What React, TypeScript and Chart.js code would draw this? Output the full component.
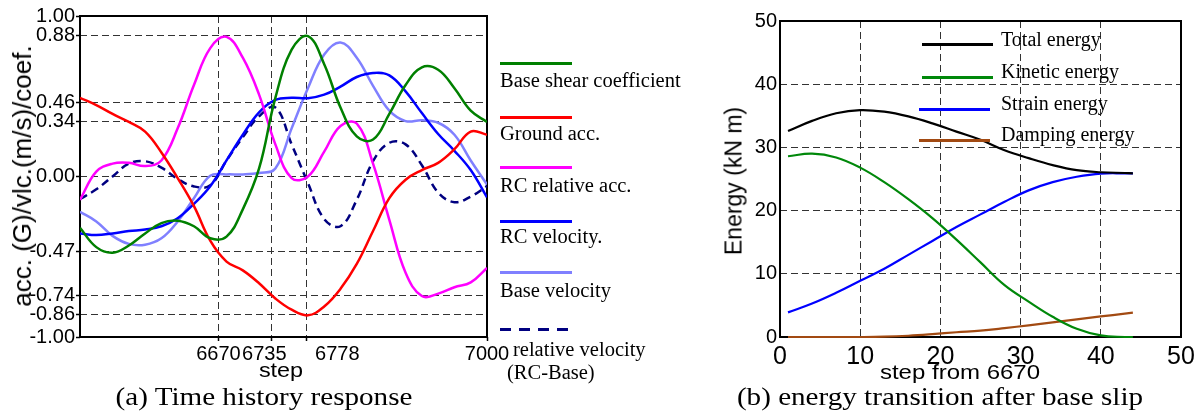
import React, { useEffect, useRef } from 'react';
import { Chart, registerables } from 'chart.js';

Chart.register(...registerables);

// ---------- (a) Time history response ----------
const STEPS = [6500, 6520, 6540, 6560, 6580, 6600, 6620, 6640, 6660, 6680, 6700, 6720, 6740, 6760, 6780, 6800, 6820, 6840, 6860, 6880, 6900, 6920, 6940, 6960, 6980, 7000];
const BASE_SHEAR = [-0.32, -0.44, -0.475, -0.43, -0.355, -0.29, -0.275, -0.31, -0.385, -0.375, -0.205, 0.05, 0.49, 0.79, 0.875, 0.70, 0.43, 0.25, 0.23, 0.39, 0.57, 0.68, 0.665, 0.55, 0.41, 0.34];
const GROUND_ACC = [0.49, 0.445, 0.39, 0.34, 0.28, 0.15, -0.01, -0.185, -0.40, -0.53, -0.585, -0.665, -0.76, -0.83, -0.865, -0.81, -0.70, -0.545, -0.34, -0.135, -0.02, 0.04, 0.085, 0.17, 0.28, 0.26];
const RC_REL_ACC = [-0.146, 0.03, 0.08, 0.085, 0.065, 0.10, 0.30, 0.57, 0.80, 0.87, 0.74, 0.51, 0.20, -0.01, 0.0, 0.155, 0.315, 0.33, 0.08, -0.27, -0.60, -0.745, -0.73, -0.69, -0.66, -0.57];
const RC_VEL = [-0.355, -0.365, -0.355, -0.34, -0.33, -0.31, -0.26, -0.17, -0.06, 0.10, 0.26, 0.40, 0.477, 0.49, 0.488, 0.51, 0.56, 0.62, 0.645, 0.63, 0.53, 0.395, 0.265, 0.16, 0.04, -0.13];
const BASE_VEL = [-0.22, -0.28, -0.37, -0.42, -0.425, -0.385, -0.28, -0.135, 0.005, 0.013, 0.013, 0.022, 0.05, 0.30, 0.55, 0.76, 0.835, 0.74, 0.565, 0.41, 0.345, 0.35, 0.335, 0.26, 0.10, -0.05];
const REL_VEL = [-0.14, -0.08, 0.0, 0.08, 0.095, 0.055, -0.015, -0.062, -0.055, 0.10, 0.245, 0.375, 0.43, 0.20, -0.04, -0.265, -0.31, -0.145, 0.095, 0.21, 0.20, 0.07, -0.10, -0.16, -0.125, -0.06];
const A_SERIES_LABELS = ['Base shear coefficient', 'Ground acc.', 'RC relative acc.', 'RC velocity.', 'Base velocity', 'relative velocity'];
const A_X_TICKS = [6670, 6735, 6778, 7000];
const A_Y_TICKS = [-1, -0.86, -0.74, -0.47, 0, 0.34, 0.46, 0.88, 1];

// ---------- (b) energy transition after base slip ----------
const E_STEPS = [1, 4, 7, 10, 13, 16, 19, 22, 25, 28, 31, 34, 37, 40, 43, 44];
const TOTAL_E = [32.6, 34.2, 35.4, 35.9, 35.65, 34.9, 33.8, 32.5, 31.2, 29.55, 28.3, 27.2, 26.4, 26.07, 25.95, 25.9];
const KINETIC_E = [28.6, 29.0, 28.4, 26.8, 24.5, 21.8, 18.8, 15.4, 11.8, 8.2, 5.6, 3.2, 1.3, 0.25, 0, 0];
const STRAIN_E = [3.9, 5.3, 7.0, 8.9, 10.8, 13.0, 15.2, 17.4, 19.4, 21.4, 23.2, 24.5, 25.35, 25.85, 25.9, 25.9];
const DAMPING_E = [0, 0, 0, 0, 0.05, 0.2, 0.45, 0.75, 1.0, 1.4, 1.85, 2.3, 2.8, 3.25, 3.7, 3.85];
const B_SERIES_LABELS = ['Total energy', 'Kinetic energy', 'Strain energy', 'Damping energy'];

const SANS = '"Liberation Sans", Arial, sans-serif';
const SERIF = '"Liberation Serif", "Times New Roman", serif';

const C_GREEN = '#008000';
const C_RED = '#ff0000';
const C_MAGENTA = '#ff00ff';
const C_BLUE = '#0000ff';
const C_LIGHT = '#8080ff';
const C_NAVY = '#000080';
const C_BROWN = '#a24a12';
const GRID = '#333333';

const pts = (xs: number[], ys: number[]) => xs.map((x, i) => ({ x, y: ys[i] }));

const boxPlugin = {
  id: 'plotBox',
  beforeDatasetsDraw(chart: any) {
    const { ctx, chartArea } = chart;
    ctx.save();
    ctx.strokeStyle = '#000';
    ctx.lineWidth = 2;
    ctx.strokeRect(chartArea.left, chartArea.top, chartArea.right - chartArea.left, chartArea.bottom - chartArea.top);
    ctx.restore();
  },
};

// horizontal nudges of the crowded x tick labels of chart (a)
const A_X_LABEL_NUDGE = [0, -7, 31, 0];
const aXLabels = {
  id: 'aXLabels',
  afterDraw(chart: any) {
    const s = chart.scales.x;
    const ctx = chart.ctx;
    ctx.save();
    ctx.font = `20px ${SANS}`;
    ctx.fillStyle = '#000';
    ctx.textAlign = 'center';
    ctx.textBaseline = 'top';
    A_X_TICKS.forEach((v, i) => {
      ctx.fillText(String(v), s.getPixelForValue(v) + A_X_LABEL_NUDGE[i], chart.chartArea.bottom + 7);
    });
    ctx.restore();
  },
};

function line(label: string, xs: number[], ys: number[], color: string, width: number, dash?: number[], clip?: number) {
  const d: any = {
    label,
    data: pts(xs, ys),
    borderColor: color,
    backgroundColor: color,
    borderWidth: width,
    borderDash: dash || [],
    pointRadius: 0,
    tension: 0.4,
    fill: false,
  };
  if (clip !== undefined) d.clip = clip;
  return d;
}

function ChartA() {
  const ref = useRef<HTMLCanvasElement>(null);
  useEffect(() => {
    const edgeA = (v: number, edges: number[]) => (edges.includes(v) ? 'rgba(0,0,0,0)' : GRID);
    const chart = new Chart(ref.current as HTMLCanvasElement, {
      type: 'line',
      data: {
        datasets: [
          line(A_SERIES_LABELS[0], STEPS, BASE_SHEAR, C_GREEN, 2.5),
          line(A_SERIES_LABELS[1], STEPS, GROUND_ACC, C_RED, 2.5),
          line(A_SERIES_LABELS[2], STEPS, RC_REL_ACC, C_MAGENTA, 2.5),
          line(A_SERIES_LABELS[3], STEPS, RC_VEL, C_BLUE, 2.5),
          line(A_SERIES_LABELS[4], STEPS, BASE_VEL, C_LIGHT, 2.5),
          line(A_SERIES_LABELS[5], STEPS, REL_VEL, C_NAVY, 2.5, [8, 5]),
        ],
      },
      options: {
        responsive: false,
        animation: false,
        devicePixelRatio: 1,
        layout: { padding: { left: 0, top: 16, right: 33, bottom: 0 } },
        plugins: { legend: { display: false }, tooltip: { enabled: false } },
        scales: {
          x: {
            type: 'linear',
            min: 6500,
            max: 7000,
            afterBuildTicks: (s: any) => {
              s.ticks = A_X_TICKS.map((v) => ({ value: v }));
            },
            afterFit: (s: any) => {
              s.height = 33;
            },
            ticks: { display: false },
            grid: {
              color: (c: any) => edgeA(c.tick ? c.tick.value : 0, [6500, 7000]),
              lineWidth: 1,
              drawTicks: true,
              tickLength: 4,
              tickColor: '#000',
              tickWidth: 1.5,
            },
            border: { display: false, dash: [7, 4] },
          },
          y: {
            type: 'linear',
            min: -1,
            max: 1,
            afterBuildTicks: (s: any) => {
              s.ticks = A_Y_TICKS.map((v) => ({ value: v }));
            },
            afterFit: (s: any) => {
              s.width = 80;
            },
            ticks: {
              autoSkip: false,
              padding: 1,
              color: '#000',
              font: { family: SANS, size: 20 },
              callback: (v: any) => Number(v).toFixed(2),
            },
            grid: {
              color: (c: any) => edgeA(c.tick ? c.tick.value : 0, [-1, 1]),
              lineWidth: 1,
              drawTicks: true,
              tickLength: 4,
              tickColor: '#000',
              tickWidth: 1.5,
            },
            border: { display: false, dash: [7, 4] },
          },
        },
      },
      plugins: [boxPlugin, aXLabels],
    } as any);
    return () => chart.destroy();
  }, []);
  return <canvas ref={ref} width={520} height={370} style={{ position: 'absolute', left: 0, top: 0 }} />;
}

function ChartB() {
  const ref = useRef<HTMLCanvasElement>(null);
  useEffect(() => {
    const edge = (v: number) => (v === 0 || v === 50 ? 'rgba(0,0,0,0)' : GRID);
    const chart = new Chart(ref.current as HTMLCanvasElement, {
      type: 'line',
      data: {
        datasets: [
          line(B_SERIES_LABELS[0], E_STEPS, TOTAL_E, '#000000', 2.2, undefined, 2),
          line(B_SERIES_LABELS[1], E_STEPS, KINETIC_E, '#00880a', 2.2, undefined, 2),
          line(B_SERIES_LABELS[2], E_STEPS, STRAIN_E, C_BLUE, 2.2, undefined, 2),
          line(B_SERIES_LABELS[3], E_STEPS, DAMPING_E, C_BROWN, 2.2, undefined, 2),
        ],
      },
      options: {
        responsive: false,
        animation: false,
        devicePixelRatio: 1,
        layout: { padding: { left: 0, top: 21, right: 19, bottom: 0 } },
        plugins: { legend: { display: false }, tooltip: { enabled: false } },
        scales: {
          x: {
            type: 'linear',
            min: 0,
            max: 50,
            afterFit: (s: any) => {
              s.height = 38;
            },
            ticks: { stepSize: 10, padding: 5, color: '#000', font: { family: SANS, size: 25 }, autoSkip: false },
            grid: { color: (c: any) => edge(c.tick ? c.tick.value : 0), lineWidth: 1, drawTicks: false },
            border: { display: false, dash: [7, 4] },
          },
          y: {
            type: 'linear',
            min: 0,
            max: 50,
            afterFit: (s: any) => {
              s.width = 90;
            },
            ticks: { stepSize: 10, padding: 3, color: '#000', font: { family: SANS, size: 20 }, autoSkip: false },
            grid: { color: (c: any) => edge(c.tick ? c.tick.value : 0), lineWidth: 1, drawTicks: false },
            border: { display: false, dash: [7, 4] },
          },
        },
      },
      plugins: [boxPlugin],
    } as any);
    return () => chart.destroy();
  }, []);
  return <canvas ref={ref} width={510} height={375} style={{ position: 'absolute', left: 690, top: 0 }} />;
}

type TProps = { x: number; y: number; size: number; family: string; sx?: number; rot?: number; left?: boolean; children: any };
function T({ x, y, size, family, sx = 1, rot = 0, left = false, children }: TProps) {
  return (
    <div
      style={{
        position: 'absolute',
        left: x,
        top: y,
        transform: `translate(${left ? '0' : '-50%'}, -50%) rotate(${rot}deg) scaleX(${sx})`,
        transformOrigin: left ? '0 50%' : '50% 50%',
        whiteSpace: 'nowrap',
        fontSize: size,
        fontFamily: family,
        lineHeight: 1,
        color: '#000',
      }}
    >
      {children}
    </div>
  );
}

function Swatch({ x, y, w, color, dashed = false }: { x: number; y: number; w: number; color: string; dashed?: boolean }) {
  return (
    <div
      style={{
        position: 'absolute',
        left: x,
        top: y - 1.5,
        width: w,
        height: 3,
        background: dashed ? `repeating-linear-gradient(to right, ${color} 0 11px, transparent 11px 19px)` : color,
      }}
    />
  );
}

export default function App() {
  const aColors = [C_GREEN, C_RED, C_MAGENTA, C_BLUE, C_LIGHT, C_NAVY];
  const aLineY = [63, 117, 167.5, 221, 272.5, 329.5];
  const aTextY = [80, 132.5, 185, 235.5, 290, 349];
  const bColors = ['#000000', '#00880a', C_BLUE, C_BROWN];
  const bLineY = [44, 77, 109.5, 140];
  const bLineX = [922, 922, 919, 919];
  const bTextY = [38.5, 70.5, 102.5, 133.5];
  return (
    <div style={{ position: 'absolute', left: 0, top: 0, width: 1200, height: 414, background: '#fff', overflow: 'hidden' }}>
      <ChartA />
      <ChartB />
      <T x={22} y={176} size={26} family={SANS} rot={-90}>acc. (G)/vlc.(m/s)/coef.</T>
      <T x={281} y={370} size={20} family={SANS} sx={1.17}>step</T>
      {A_SERIES_LABELS.map((lab, i) => (
        <React.Fragment key={lab}>
          <Swatch x={500} y={aLineY[i]} w={i === 5 ? 68 : 72} color={aColors[i]} dashed={i === 5} />
          <T x={i === 5 ? 513 : 500} y={aTextY[i]} size={20.5} family={SERIF} left>{lab}</T>
        </React.Fragment>
      ))}
      <T x={507} y={372} size={20.5} family={SERIF} left>(RC-Base)</T>
      <T x={264} y={397} size={26} family={SERIF} sx={1.12}>(a) Time history response</T>

      <T x={734} y={181} size={23} family={SANS} rot={-90}>Energy (kN m)</T>
      <T x={960} y={372} size={20} family={SANS} sx={1.2}>step from 6670</T>
      {B_SERIES_LABELS.map((lab, i) => (
        <React.Fragment key={lab}>
          <Swatch x={bLineX[i]} y={bLineY[i]} w={71} color={bColors[i]} />
          <T x={1001} y={bTextY[i]} size={20} family={SERIF} left>{lab}</T>
        </React.Fragment>
      ))}
      <T x={940} y={397} size={26} family={SERIF} sx={1.12}>(b) energy transition after base slip</T>
    </div>
  );
}
